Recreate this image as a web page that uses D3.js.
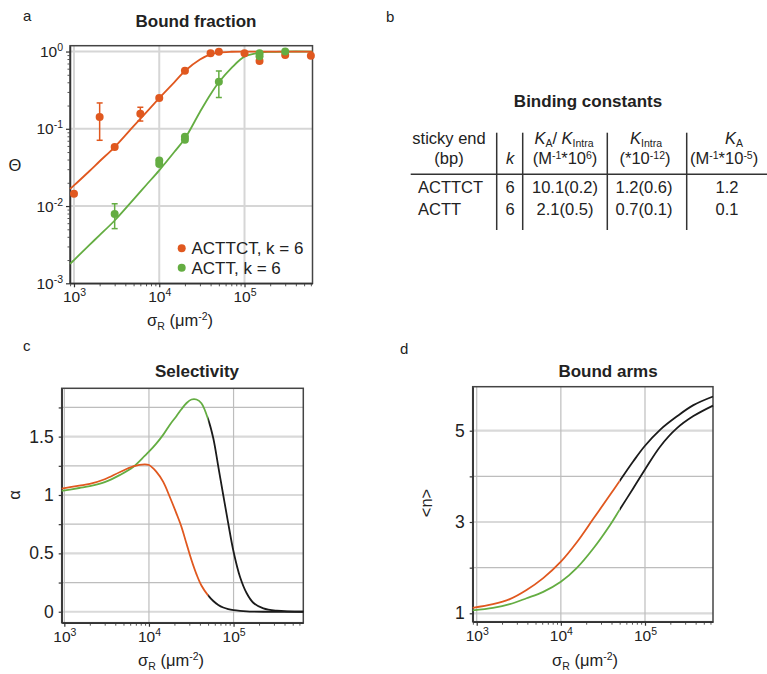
<!DOCTYPE html>
<html>
<head>
<meta charset="utf-8">
<script src="https://cdn.jsdelivr.net/npm/d3@7"></script>
<style>
  body { margin: 0; background: #fff; }
  svg { display: block; font-family: "Liberation Sans", Arial, sans-serif; }
</style>
</head>
<body>
<div id="chart"></div>
<script>
// ---- data ----
// panel a: measured bound fraction
var actX = [1000, 2000, 3000, 6000, 1e4, 2e4, 4e4, 5e4, 1e5, 1.5e5, 3e5, 6e5];
var actY = [0.0144, 0.142, 0.058, 0.157, 0.25, 0.564, 0.948, 0.994, 0.948, 0.753, 0.9, 0.88];
var actErrX = [2000, 6000];
var actErrLo = [0.071, 0.126];
var actErrHi = [0.216, 0.19];

var acttX = [3000, 1e4, 1e4, 2e4, 2e4, 5e4, 1.5e5, 1.5e5, 3e5];
var acttY = [0.0079, 0.039, 0.035, 0.079, 0.072, 0.405, 0.95, 0.87, 1.0];
var acttErrX = [3000, 5e4];
var acttErrLo = [0.0051, 0.254];
var acttErrHi = [0.0107, 0.56];

// panel a: fitted curves
var fitX = [898, 1000, 1500, 2000, 3000, 5000, 7000, 1e4, 1.5e4, 2e4, 3e4, 4e4, 5e4, 7e4, 1e5, 1.5e5, 2e5, 3e5, 6.27e5];
var fitActtct = [0.0167, 0.0185, 0.028, 0.038, 0.058, 0.108, 0.162, 0.25, 0.40, 0.56, 0.79, 0.92, 0.97, 0.993, 0.998, 1, 1, 1, 1];
var fitActt = [0.00178, 0.002, 0.0031, 0.0042, 0.0065, 0.0122, 0.0186, 0.029, 0.05, 0.075, 0.165, 0.28, 0.40, 0.61, 0.86, 0.965, 0.99, 1.0, 1.0];

// panel c: selectivity
var selX = [931, 1500, 2000, 3000, 4500, 6500, 8900, 1e4, 1.22e4, 1.47e4, 1.76e4, 2.11e4, 2.42e4, 2.77e4, 3.18e4, 3.65e4, 4.17e4, 5e4, 5.76e4, 6.6e4, 7.55e4, 8.65e4, 1e5, 1.19e5, 1.43e5, 1.71e5, 2.25e5, 3.24e5, 6.67e5];
var selActtct = [1.055, 1.08, 1.095, 1.135, 1.195, 1.245, 1.263, 1.257, 1.2, 1.114, 0.985, 0.843, 0.728, 0.586, 0.443, 0.32, 0.225, 0.14, 0.092, 0.058, 0.036, 0.022, 0.013, 0.007, 0.003, 0.001, 0, 0, 0];
var selActt = [1.035, 1.06, 1.075, 1.11, 1.17, 1.24, 1.335, 1.371, 1.44, 1.515, 1.60, 1.675, 1.735, 1.786, 1.818, 1.818, 1.786, 1.65, 1.486, 1.243, 1.0, 0.757, 0.514, 0.3, 0.158, 0.077, 0.029, 0.009, 0];

// panel d: bound arms
var armX = [896, 1560, 2470, 3910, 6170, 1e4, 1.54e4, 2.43e4, 3.83e4, 5e4, 7.26e4, 1e5, 1.51e5, 2.38e5, 3.76e5, 6.43e5];
var armActtct = [1.12, 1.2, 1.31, 1.51, 1.77, 2.13, 2.55, 3.07, 3.59, 3.9, 4.33, 4.67, 5.02, 5.31, 5.56, 5.75];
var armActt = [1.065, 1.12, 1.2, 1.33, 1.47, 1.69, 1.99, 2.42, 2.93, 3.27, 3.74, 4.15, 4.65, 5.05, 5.32, 5.55];

var splitX = 5e4; // curves turn black past this density

// panel b: table
var tableRows = ["ACTTCT", "ACTT"];
var tableK = ["6", "6"];
var tableRatio = ["10.1(0.2)", "2.1(0.5)"];
var tableKintra = ["1.2(0.6)", "0.7(0.1)"];
var tableKa = ["1.2", "0.1"];

var orange = "#e0581f", green = "#64ad42", black = "#1b1b1b";
var txt = "#222";

var svg = d3.select("#chart").append("svg")
    .attr("width", 767)
    .attr("height", 674);

function zip(xs, ys) { return xs.map(function (x, i) { return [x, ys[i]]; }); }

// text with sub/superscripts; parts = [{t, sub, sup, it}]
function rich(parent, x, y, anchor, size, parts, shift) {
    shift = shift || {sub: 4, sup: -6};
    var t = parent.append("text")
        .attr("x", x).attr("y", y)
        .attr("text-anchor", anchor)
        .attr("font-size", size + "px")
        .attr("fill", txt);
    var off = 0;
    parts.forEach(function (p) {
        var target = p.sub ? shift.sub : (p.sup ? shift.sup : 0);
        var s = t.append("tspan").attr("dy", target - off).text(p.t);
        if (p.sub || p.sup) s.attr("font-size", "10.5px");
        if (p.it) s.attr("font-style", "italic");
        off = target;
    });
    return t;
}

function powLabels(g) {
    g.selectAll(".tick text").each(function (d) {
        var t = d3.select(this);
        var e = Math.round(Math.log10(d));
        t.text(null);
        t.append("tspan").text("10");
        t.append("tspan").attr("dy", -6).attr("font-size", "10.5px").text(e);
    });
}

function styleAxis(g, fs) {
    g.attr("font-family", null).attr("font-size", fs + "px");
    g.select(".domain").attr("stroke", "#333").attr("stroke-width", 1.5);
    g.selectAll(".tick line").attr("stroke", "#333").attr("stroke-width", 1.2);
    g.selectAll(".tick text").attr("fill", txt);
}

function minorLog(lo, hi) {
    var out = [];
    for (var e = 2; e <= 5; e++) {
        for (var m = 2; m <= 9; m++) {
            var v = m * Math.pow(10, e);
            if (v > lo && v < hi) out.push(v);
        }
    }
    return out;
}

function frame(g, b) {
    g.append("rect")
        .attr("x", b.left).attr("y", b.top)
        .attr("width", b.right - b.left).attr("height", b.bottom - b.top)
        .attr("fill", "none").attr("stroke", "#444").attr("stroke-width", 1.5);
}

function xTitle(g, cx, y) {
    rich(g, cx, y, "middle", 16.5, [
        {t: "σ"}, {t: "R", sub: true}, {t: " (μm"}, {t: "-2", sup: true}, {t: ")"}
    ]);
}

function title(g, cx, y, s) {
    g.append("text").attr("x", cx).attr("y", y)
        .attr("text-anchor", "middle")
        .attr("font-size", "17px").attr("font-weight", "bold")
        .attr("fill", txt).text(s);
}

function panelLetter(x, y, s) {
    svg.append("text").attr("x", x).attr("y", y)
        .attr("font-size", "15px").attr("fill", txt).text(s);
}

var lineGen = function (x, y) {
    return d3.line()
        .x(function (d) { return x(d[0]); })
        .y(function (d) { return y(d[1]); })
        .curve(d3.curveCatmullRom.alpha(0.5));
};

// ================= panel a =================
var bA = {left: 70, right: 312.5, top: 45.7, bottom: 283.3};
var xA = d3.scaleLog().domain([898, 6.27e5]).range([bA.left, bA.right]);
var yA = d3.scaleLog().domain([1e-3, 1.19]).range([bA.bottom, bA.top]);
var gA = svg.append("g");

gA.selectAll(".vg").data([1e3, 1e4, 1e5]).join("line")
    .attr("x1", function (d) { return xA(d); }).attr("x2", function (d) { return xA(d); })
    .attr("y1", bA.top).attr("y2", bA.bottom)
    .attr("stroke", "#d6d6d6").attr("stroke-width", 2);
gA.selectAll(".hg").data([1e-2, 1e-1, 1]).join("line")
    .attr("y1", function (d) { return yA(d); }).attr("y2", function (d) { return yA(d); })
    .attr("x1", bA.left).attr("x2", bA.right)
    .attr("stroke", "#d6d6d6").attr("stroke-width", 2);
frame(gA, bA);

gA.append("g").attr("transform", "translate(0," + bA.bottom + ")")
    .call(d3.axisBottom(xA).tickValues(minorLog(898, 6.27e5)).tickSize(3).tickFormat(""))
    .call(function (g) { g.select(".domain").remove(); g.selectAll("line").attr("stroke", "#555"); });
gA.append("g").attr("transform", "translate(" + bA.left + ",0)")
    .call(d3.axisLeft(yA).tickValues([0.002,0.003,0.004,0.005,0.006,0.007,0.008,0.009,0.02,0.03,0.04,0.05,0.06,0.07,0.08,0.09,0.2,0.3,0.4,0.5,0.6,0.7,0.8,0.9]).tickSize(2.5).tickFormat(""))
    .call(function (g) { g.select(".domain").remove(); g.selectAll("line").attr("stroke", "#555"); });

var axAx = gA.append("g").attr("transform", "translate(0," + bA.bottom + ")")
    .call(d3.axisBottom(xA).tickValues([1e3, 1e4, 1e5]).tickSizeInner(4).tickSizeOuter(0).tickPadding(4));
styleAxis(axAx, 15.5); powLabels(axAx);
var axAy = gA.append("g").attr("transform", "translate(" + bA.left + ",0)")
    .call(d3.axisLeft(yA).tickValues([1e-3, 1e-2, 1e-1, 1]).tickSizeInner(4).tickSizeOuter(0).tickPadding(3));
styleAxis(axAy, 15.5); powLabels(axAy);

var lA = lineGen(xA, yA);
gA.append("path").datum(zip(fitX, fitActt)).attr("d", lA)
    .attr("fill", "none").attr("stroke", green).attr("stroke-width", 1.8);
gA.append("path").datum(zip(fitX, fitActtct)).attr("d", lA)
    .attr("fill", "none").attr("stroke", orange).attr("stroke-width", 1.8);

function errBars(g, xs, lo, hi, col) {
    var d = xs.map(function (x, i) { return [x, lo[i], hi[i]]; });
    var eg = g.append("g").attr("stroke", col).attr("stroke-width", 1.5);
    eg.selectAll(".ev").data(d).join("line")
        .attr("x1", function (d) { return xA(d[0]); }).attr("x2", function (d) { return xA(d[0]); })
        .attr("y1", function (d) { return yA(d[1]); }).attr("y2", function (d) { return yA(d[2]); });
    eg.selectAll(".ct").data(d).join("line")
        .attr("x1", function (d) { return xA(d[0]) - 3; }).attr("x2", function (d) { return xA(d[0]) + 3; })
        .attr("y1", function (d) { return yA(d[2]); }).attr("y2", function (d) { return yA(d[2]); });
    eg.selectAll(".cb").data(d).join("line")
        .attr("x1", function (d) { return xA(d[0]) - 3; }).attr("x2", function (d) { return xA(d[0]) + 3; })
        .attr("y1", function (d) { return yA(d[1]); }).attr("y2", function (d) { return yA(d[1]); });
}
errBars(gA, actErrX, actErrLo, actErrHi, orange);
errBars(gA, acttErrX, acttErrLo, acttErrHi, green);

gA.append("g").selectAll("circle").data(zip(actX, actY)).join("circle")
    .attr("cx", function (d) { return xA(d[0]); }).attr("cy", function (d) { return yA(d[1]); })
    .attr("r", 4).attr("fill", orange);
gA.append("g").selectAll("circle").data(zip(acttX, acttY)).join("circle")
    .attr("cx", function (d) { return xA(d[0]); }).attr("cy", function (d) { return yA(d[1]); })
    .attr("r", 4).attr("fill", green);

// legend
var leg = [["ACTTCT, k = 6", orange], ["ACTT, k = 6", green]];
leg.forEach(function (l, i) {
    gA.append("circle").attr("cx", 181.7).attr("cy", 248.3 + i * 19.4).attr("r", 4).attr("fill", l[1]);
    gA.append("text").attr("x", 191.5).attr("y", 254.3 + i * 19.4)
        .attr("font-size", "17px").attr("fill", txt).text(l[0]);
});

title(gA, 196, 27, "Bound fraction");
gA.append("text").attr("x", 15).attr("y", 171).attr("text-anchor", "middle")
    .attr("font-size", "16.5px").attr("fill", txt).text("Θ");
xTitle(gA, 180, 325.5);
panelLetter(23, 21, "a");

// ================= panel b (table) =================
var gB = svg.append("g");
panelLetter(386, 22, "b");
title(gB, 588, 107, "Binding constants");

var rule = {stroke: "#333", w: 1.5};
[496.7, 522.7, 607.3, 686.7].forEach(function (x) {
    gB.append("line").attr("x1", x).attr("x2", x).attr("y1", 132.7).attr("y2", 230)
        .attr("stroke", rule.stroke).attr("stroke-width", rule.w);
});
gB.append("line").attr("x1", 410.7).attr("x2", 767).attr("y1", 174.3).attr("y2", 174.3)
    .attr("stroke", rule.stroke).attr("stroke-width", rule.w);

var h1 = 143.5, h2 = 164, fsT = 16.5;
var tight = {sub: 3, sup: -5};
rich(gB, 449, h1, "middle", fsT, [{t: "sticky end"}]);
rich(gB, 449, h2, "middle", fsT, [{t: "(bp)"}]);
rich(gB, 510, h2, "middle", fsT, [{t: "k", it: true}]);
rich(gB, 564, h1, "middle", fsT, [{t: "K", it: true}, {t: "A", sub: true}, {t: "/ "}, {t: "K", it: true}, {t: "Intra", sub: true}], tight);
rich(gB, 565, h2, "middle", fsT, [{t: "(M"}, {t: "-1", sup: true}, {t: "*10"}, {t: "6", sup: true}, {t: ")"}], tight);
rich(gB, 646, h1, "middle", fsT, [{t: "K", it: true}, {t: "Intra", sub: true}], tight);
rich(gB, 645, h2, "middle", fsT, [{t: "(*10"}, {t: "-12", sup: true}, {t: ")"}], tight);
rich(gB, 734, h1, "middle", fsT, [{t: "K", it: true}, {t: "A", sub: true}], tight);
rich(gB, 690, h2, "start", fsT, [{t: "(M"}, {t: "-1", sup: true}, {t: "*10"}, {t: "-5", sup: true}, {t: ")"}], tight);

var rowY = [193.3, 215];
tableRows.forEach(function (r, i) {
    gB.append("text").attr("x", 418).attr("y", rowY[i]).attr("font-size", fsT + "px").attr("fill", txt).text(r);
    gB.append("text").attr("x", 510).attr("y", rowY[i]).attr("text-anchor", "middle").attr("font-size", fsT + "px").attr("fill", txt).text(tableK[i]);
    gB.append("text").attr("x", 565).attr("y", rowY[i]).attr("text-anchor", "middle").attr("font-size", fsT + "px").attr("fill", txt).text(tableRatio[i]);
    gB.append("text").attr("x", 644).attr("y", rowY[i]).attr("text-anchor", "middle").attr("font-size", fsT + "px").attr("fill", txt).text(tableKintra[i]);
    gB.append("text").attr("x", 727).attr("y", rowY[i]).attr("text-anchor", "middle").attr("font-size", fsT + "px").attr("fill", txt).text(tableKa[i]);
});

// ================= linear panels c, d =================
function linPanel(id, b, xDom, yDom, yTicks, yMajor, ys, xs, xTitleX) {
    var x = d3.scaleLog().domain(xDom).range([b.left, b.right]);
    var y = d3.scaleLinear().domain(yDom).range([b.bottom, b.top]);
    var g = svg.append("g");

    g.selectAll(".hg").data(yTicks).join("line")
        .attr("x1", b.left).attr("x2", b.right)
        .attr("y1", function (d) { return y(d); }).attr("y2", function (d) { return y(d); })
        .attr("stroke", function (d) { return yMajor.indexOf(d) >= 0 ? "#d9d9d9" : "#bdbdbd"; })
        .attr("stroke-width", function (d) { return yMajor.indexOf(d) >= 0 ? 2.2 : 1.2; });
    g.selectAll(".vg").data([1e3, 1e4, 1e5]).join("line")
        .attr("x1", function (d) { return x(d); }).attr("x2", function (d) { return x(d); })
        .attr("y1", b.top).attr("y2", b.bottom)
        .attr("stroke", "#bdbdbd").attr("stroke-width", 1.2);
    frame(g, b);

    g.append("g").attr("transform", "translate(0," + b.bottom + ")")
        .call(d3.axisBottom(x).tickValues(minorLog(xDom[0], xDom[1])).tickSize(3).tickFormat(""))
        .call(function (s) { s.select(".domain").remove(); s.selectAll("line").attr("stroke", "#555"); });
    var ax = g.append("g").attr("transform", "translate(0," + b.bottom + ")")
        .call(d3.axisBottom(x).tickValues([1e3, 1e4, 1e5]).tickSizeInner(4).tickSizeOuter(0).tickPadding(4));
    styleAxis(ax, 15.5); powLabels(ax);
    var ay = g.append("g").attr("transform", "translate(" + b.left + ",0)")
        .call(d3.axisLeft(y).tickValues(yTicks).tickSizeInner(3).tickSizeOuter(0).tickPadding(5)
            .tickFormat(function (d) { return yMajor.indexOf(d) >= 0 ? d3.format("~g")(d) : ""; }));
    styleAxis(ay, 17.5);

    // clip: coloured left of the split density, black right of it
    var defs = g.append("defs");
    var xs0 = x(splitX);
    defs.append("clipPath").attr("id", id + "-l").append("rect")
        .attr("x", b.left - 5).attr("y", b.top - 5).attr("width", xs0 - b.left + 5).attr("height", b.bottom - b.top + 10);
    defs.append("clipPath").attr("id", id + "-r").append("rect")
        .attr("x", xs0).attr("y", b.top - 5).attr("width", b.right - xs0 + 5).attr("height", b.bottom - b.top + 10);

    var lg = lineGen(x, y);
    ys.forEach(function (s) {
        var pts = zip(xs, s.v);
        g.append("path").datum(pts).attr("d", lg).attr("clip-path", "url(#" + id + "-r)")
            .attr("fill", "none").attr("stroke", black).attr("stroke-width", 1.8);
        g.append("path").datum(pts).attr("d", lg).attr("clip-path", "url(#" + id + "-l)")
            .attr("fill", "none").attr("stroke", s.c).attr("stroke-width", 1.8);
    });
    xTitle(g, xTitleX, 666);
    return g;
}

var gC = linPanel("sel", {left: 61.7, right: 303.3, top: 388.3, bottom: 622.7},
    [931, 6.67e5], [-0.094, 1.914],
    [0, 0.25, 0.5, 0.75, 1, 1.25, 1.5, 1.75], [0, 0.5, 1, 1.5],
    [{v: selActt, c: green}, {v: selActtct, c: orange}], selX, 171);
title(gC, 197, 377, "Selectivity");
gC.append("text").attr("transform", "translate(19.5,495) rotate(-90)").attr("text-anchor", "middle")
    .attr("font-size", "16.5px").attr("fill", txt).text("α");
panelLetter(23, 351, "c");

var gD = linPanel("arm", {left: 472.7, right: 713, top: 386.7, bottom: 621.7},
    [896, 6.43e5], [0.816, 5.964],
    [1, 2, 3, 4, 5], [1, 3, 5],
    [{v: armActt, c: green}, {v: armActtct, c: orange}], armX, 585);
title(gD, 608, 377, "Bound arms");
gD.append("text").attr("transform", "translate(432,503) rotate(-90)").attr("text-anchor", "middle")
    .attr("font-size", "16.5px").attr("fill", txt).text("<n>");
panelLetter(400, 354, "d");
</script>
</body>
</html>
